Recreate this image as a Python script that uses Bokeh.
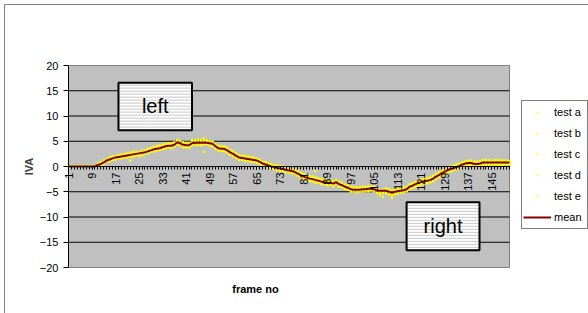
import math
from bokeh.plotting import figure
from bokeh.models import Legend, LegendItem, FixedTicker, Label, Range1d
from bokeh.embed import file_html
from bokeh.resources import INLINE

# ---------------- data ----------------
frames = list(range(1, 152))
x_tick_values = [1, 9, 17, 25, 33, 41, 49, 57, 65, 73, 81, 89, 97, 105, 113, 121, 129, 137, 145]
y_tick_values = [-20, -15, -10, -5, 0, 5, 10, 15, 20]

mean = [0, 0, 0, 0, 0, 0, 0, 0, 0, 0,
        0.3, 0.5, 0.8, 1.2, 1.4, 1.6, 1.8, 1.9, 2.0, 2.1,
        2.2, 2.3, 2.4, 2.5, 2.6, 2.7, 2.8, 3.0, 3.2, 3.4,
        3.5, 3.6, 3.8, 4.0, 4.1, 4.1, 4.3, 4.8, 4.6, 4.3,
        4.2, 4.2, 4.6, 4.7, 4.7, 4.7, 4.7, 4.7, 4.6, 4.5,
        4.0, 3.6, 3.5, 3.5, 3.2, 2.8, 2.5, 2.1, 1.8, 1.7,
        1.6, 1.5, 1.4, 1.3, 1.2, 0.9, 0.6, 0.4, 0.2, 0.0,
        -0.1, -0.3, -0.4, -0.5, -0.7, -0.8, -0.9, -1.1, -1.4, -1.7,
        -2.0, -2.2, -2.4, -2.5, -2.7, -2.8, -3.0, -3.1, -3.2, -3.2,
        -3.4, -3.1, -3.5, -3.7, -4.0, -4.2, -4.5, -4.6, -4.6, -4.6,
        -4.5, -4.5, -4.4, -4.4, -4.5, -4.8, -4.8, -4.8, -4.8, -5.0,
        -5.2, -5.0, -4.9, -4.8, -4.7, -4.5, -4.0, -3.8, -3.5, -3.3,
        -3.1, -2.9, -2.8, -2.7, -2.4, -2.0, -1.7, -1.3, -1.0, -0.7,
        -0.5, -0.3, -0.1, 0.1, 0.4, 0.6, 0.7, 0.7, 0.5, 0.5,
        0.6, 0.8, 0.8, 0.8, 0.8, 0.8, 0.8, 0.8, 0.8, 0.8, 0.8]

test_a = [0, 0, 0, 0, 0, 0, 0, 0, 0, 0,
          0.6, 0.2, 1.2, 1.0, 1.9, 1.3, 2.1, 1.6, 2.4, 1.8,
          2.6, 2.0, 2.9, 2.2, 2.3, 3.1, 2.5, 3.5, 2.9, 3.9,
          3.1, 4.2, 3.4, 4.5, 3.8, 4.6, 3.9, 5.3, 4.2, 4.8,
          3.7, 4.7, 5.2, 4.3, 5.3, 4.2, 5.1, 4.4, 5.0, 4.0,
          4.5, 3.1, 4.0, 3.0, 3.7, 2.3, 3.0, 1.7, 2.3, 1.3,
          2.1, 1.1, 1.9, 0.9, 1.6, 0.5, 1.0, 0.0, 0.6, -0.4,
          0.3, -0.7, 0.1, -0.9, -0.2, -1.2, -0.4, -1.5, -0.9, -2.1,
          -1.5, -2.6, -1.9, -2.9, -2.2, -3.2, -2.5, -3.5, -2.8, -3.6,
          -2.9, -3.5, -3.0, -4.1, -3.6, -4.6, -4.0, -5.0, -4.1, -5.0,
          -4.0, -4.9, -3.9, -4.8, -4.0, -5.3, -5.6, -5.2, -4.3, -5.5,
          -4.7, -5.5, -4.4, -5.2, -4.2, -4.9, -3.5, -4.3, -3.0, -3.8,
          -2.6, -3.4, -2.3, -3.2, -1.9, -2.5, -1.2, -1.8, -0.5, -1.2,
          0.0, -0.8, 0.4, -0.4, 0.9, 0.1, 1.2, 0.2, 1.0, 0.0,
          1.1, 0.3, 1.3, 0.3, 1.2, 0.4, 1.3, 0.3, 1.2, 0.4, 1.1]

test_b = [0, 0, 0, 0, 0, 0, 0, 0, 0, 0,
          0.0, 0.9, 0.4, 1.5, 1.0, 2.0, 1.4, 2.3, 1.6, 2.5,
          1.8, 2.7, 1.9, 2.9, 2.1, 2.2, 3.2, 2.6, 3.6, 2.9,
          4.0, 3.2, 4.3, 3.5, 4.6, 3.6, 4.8, 4.3, 5.1, 3.8,
          4.7, 3.7, 4.1, 5.2, 4.2, 5.3, 4.3, 5.2, 4.1, 5.0,
          3.5, 4.1, 3.0, 4.0, 2.7, 3.3, 2.0, 2.6, 1.3, 2.2,
          1.1, 2.0, 0.9, 1.8, 0.7, 1.4, 0.1, 0.9, -0.3, 0.5,
          -0.6, 0.2, -0.9, 0.0, -1.2, -0.3, -1.4, -0.6, -1.9, -1.2,
          -2.5, -1.7, -2.9, -2.0, -3.2, -2.3, -3.5, -2.6, -3.7, -2.7,
          -3.9, -2.6, -4.0, -3.2, -4.5, -3.7, -5.0, -4.1, -5.1, -4.1,
          -5.0, -4.0, -4.9, -3.9, -5.0, -4.3, -5.3, -6.0, -5.3, -4.5,
          -5.7, -4.5, -5.4, -4.3, -5.2, -4.0, -4.5, -3.3, -4.0, -2.8,
          -3.6, -2.4, -3.3, -2.2, -2.9, -1.5, -2.2, -0.8, -1.5, -0.2,
          -1.0, 0.2, -0.6, 0.6, -0.1, 1.1, 0.2, 1.2, 0.0, 1.0,
          0.1, 1.3, 0.3, 1.3, 0.3, 1.3, 0.3, 1.3, 0.3, 1.2, 0.4]

test_c = [0, 0, 0, 0, 0, 0, 0, 0, 0, 0,
          0.2, 0.7, 0.6, 1.4, 1.2, 1.8, 1.7, 2.1, 1.8, 2.3,
          2.0, 2.5, 2.2, 2.7, 2.4, 2.9, 2.6, 3.2, 3.0, 3.6,
          3.3, 3.8, 3.6, 4.2, 3.9, 4.3, 4.1, 5.0, 4.4, 4.5,
          4.0, 4.4, 4.4, 4.9, 4.5, 4.9, 4.5, 4.9, 4.4, 4.7,
          3.8, 3.8, 3.3, 3.7, 3.0, 3.0, 2.3, 2.3, 1.6, 1.9,
          1.4, 1.7, 1.2, 1.5, 1.0, 1.1, 0.4, 0.6, 0.0, 0.2,
          -0.3, -0.1, -0.6, -0.3, -0.9, -0.6, -1.1, -0.9, -1.6, -1.5,
          -2.2, -2.0, -2.6, -2.3, -2.9, -2.6, -3.2, -2.9, -3.4, -3.0,
          -3.6, -2.9, -3.7, -3.5, -4.2, -4.0, -4.7, -4.4, -4.8, -4.4,
          -4.7, -4.3, -4.6, -4.2, -4.7, -4.6, -5.0, -4.6, -5.0, -4.8,
          -5.4, -4.8, -5.1, -4.6, -4.9, -4.3, -4.2, -3.6, -3.7, -3.1,
          -3.3, -2.7, -3.0, -2.5, -2.6, -1.8, -1.9, -1.1, -1.2, -0.5,
          -0.7, -0.1, -0.3, 0.3, 0.2, 0.8, 0.5, 0.9, 0.3, 0.7,
          0.4, 1.0, 0.6, 1.0, 0.6, 1.0, 0.6, 1.0, 0.6, 1.0, 0.6]

test_d = [0, 0, 0, 0, 0, 0, 0, 0, 0, 0,
          0.5, 0.3, 1.0, 1.0, 1.6, 1.4, 2.0, 1.7, 2.2, 1.9,
          2.4, 1.2, 2.6, 2.3, 2.8, 2.5, 3.0, 2.8, 3.4, 3.2,
          3.7, 3.4, 4.0, 3.8, 4.3, 3.9, 4.5, 4.6, 4.8, 4.1,
          4.4, 4.0, 4.8, 4.5, 4.9, 4.5, 2.9, 4.5, 4.8, 4.3,
          4.2, 3.4, 3.7, 3.3, 3.4, 2.6, 2.7, 1.9, 2.0, 1.5,
          1.8, 1.3, 1.6, 1.1, 1.4, 0.7, 0.8, 0.2, 0.4, -0.2,
          0.1, -0.5, -0.2, -0.7, -0.5, -1.0, -0.7, -1.3, -1.2, -1.9,
          -1.8, -2.4, -2.2, -2.7, -0.9, -3.0, -2.8, -3.3, -3.0, -3.4,
          -3.2, -3.3, -3.3, -3.9, -3.8, -4.4, -4.3, -4.8, -4.4, -4.8,
          -4.3, -4.7, -4.2, -4.6, -4.3, -5.0, -4.6, -5.0, -4.4, -5.2,
          -6.2, -5.2, -4.7, -5.0, -4.5, -4.7, -3.8, -4.0, -3.3, -3.5,
          -2.9, -3.1, -2.6, -2.9, -2.2, -2.2, -1.5, -1.5, -0.8, -0.9,
          -0.3, -0.5, 0.1, -0.1, 0.6, 0.4, 0.9, 0.5, 0.7, 0.3,
          0.8, 0.6, 1.0, 0.6, 1.0, 0.6, 1.0, 0.6, 1.0, 0.6, 1.0]

test_e = [0, 0, 0, 0, 0, 0, 0, 0, 0, 0,
          0.1, 0.6, 0.5, 1.3, 1.1, 1.7, 1.9, 2.0, 2.1, 2.2,
          2.3, 2.2, 2.5, 2.4, 2.7, 2.6, 2.9, 3.1, 3.1, 3.5,
          3.4, 3.7, 3.7, 4.1, 4.0, 4.2, 4.2, 4.9, 4.5, 4.4,
          4.1, 4.3, 4.5, 4.8, 4.6, 4.8, 5.6, 4.8, 4.5, 4.6,
          3.9, 3.7, 3.4, 3.6, 3.1, 2.9, 2.4, 2.2, 1.7, 1.8,
          1.5, 1.6, 1.3, 1.4, 1.1, 1.0, 0.5, 0.5, 0.1, 0.1,
          -0.2, -0.2, -0.5, -0.4, -0.8, -0.7, -1.0, -1.0, -1.5, -1.6,
          -2.1, -2.1, -2.5, -2.4, -2.8, -2.7, -3.1, -3.0, -3.3, -3.1,
          -3.5, -3.0, -3.6, -3.6, -4.1, -4.1, -4.6, -4.5, -4.7, -4.5,
          -4.6, -4.4, -4.5, -4.3, -4.6, -4.7, -4.9, -4.7, -4.9, -4.9,
          -5.3, -4.9, -5.0, -4.7, -4.8, -4.4, -4.1, -3.7, -3.6, -3.2,
          -3.2, -2.8, -2.9, -2.6, -2.5, -1.9, -1.8, -1.2, -1.1, -0.6,
          -0.6, -0.2, -0.2, 0.2, 0.3, 0.7, 0.6, 0.8, 0.4, 0.6,
          0.5, 0.9, 0.7, 0.9, 0.7, 0.9, 0.7, 0.9, 0.7, 0.9, 0.7]

series_names = ["test a", "test b", "test c", "test d", "test e"]
series_values = [test_a, test_b, test_c, test_d, test_e]

# ---------------- layout / style ----------------
FONT = "Liberation Sans"
W, H = 588, 313                 # canvas = whole window
AREA_LEFT_PX, AREA_TOP_PX = 68, 65
PX_PER_FRAME = 2.94             # 441 px for 150 frame steps
PX_PER_UNIT = 5.05              # 202 px for 40 value units
BORDER_PX = 4                   # chart-area border offset from window edge

x_start = frames[0] - AREA_LEFT_PX / PX_PER_FRAME
x_end = frames[0] + (W - AREA_LEFT_PX) / PX_PER_FRAME
y_top = y_tick_values[-1] + AREA_TOP_PX / PX_PER_UNIT
y_bottom = y_tick_values[-1] - (H - AREA_TOP_PX) / PX_PER_UNIT
border_x = x_start + BORDER_PX / PX_PER_FRAME
border_y = y_top - BORDER_PX / PX_PER_UNIT

left_box = dict(left=18.0, right=43.0, top=16.6, bottom=7.2, text="left")
right_box = dict(left=116.0, right=140.8, top=-7.07, bottom=-16.6, text="right")
STRIPE_STEP = 3 / PX_PER_UNIT
XLABEL_POS = (64.6, -24.3)

p = figure(width=W, height=H, output_backend="svg", toolbar_location=None,
           x_range=Range1d(x_start, x_end), y_range=Range1d(y_bottom, y_top),
           min_border_left=0, min_border_right=0, min_border_top=0, min_border_bottom=0,
           background_fill_color="white", border_fill_color="white")
p.outline_line_color = None
p.xgrid.visible = False
p.ygrid.visible = False

# chart-area border (left and top edges visible in the window)
p.segment(x0=[border_x, border_x], y0=[border_y, border_y], x1=[border_x, x_end], y1=[y_bottom, border_y],
          line_color="#808080", line_width=1)

# grey plot area + gridlines
p.quad(left=[frames[0]], right=[frames[-1]], bottom=[y_tick_values[0]], top=[y_tick_values[-1]],
       fill_color="#c0c0c0", line_color="#808080", line_width=1)
inner_ticks = [t for t in y_tick_values if y_tick_values[0] < t < y_tick_values[-1]]
p.segment(x0=[frames[0]] * len(inner_ticks), x1=[frames[-1]] * len(inner_ticks),
          y0=inner_ticks, y1=inner_ticks, line_color="black", line_width=1)

# y axis (fixed at the left edge of the plot area)
p.yaxis.fixed_location = frames[0]
p.yaxis.ticker = FixedTicker(ticks=y_tick_values)
p.yaxis.bounds = (y_tick_values[0], y_tick_values[-1])
p.yaxis.axis_line_color = "black"
p.yaxis.major_tick_out = 5
p.yaxis.major_tick_in = 0
p.yaxis.minor_tick_line_color = None
p.yaxis.major_label_standoff = 5
p.yaxis.major_label_text_font = FONT
p.yaxis.major_label_text_font_size = "11px"
p.yaxis.major_label_text_color = "black"
p.yaxis.axis_label = "IVA"
p.yaxis.axis_label_text_font = FONT
p.yaxis.axis_label_text_font_size = "11px"
p.yaxis.axis_label_text_font_style = "bold"
p.yaxis.axis_label_standoff = 2

# x axis at y = 0
p.xaxis.fixed_location = 0
p.xaxis.bounds = (frames[0], frames[-1])
p.xaxis.ticker = FixedTicker(ticks=x_tick_values, minor_ticks=frames)
p.xaxis.axis_line_color = "black"
p.xaxis.major_tick_out = 3
p.xaxis.major_tick_in = 0
p.xaxis.minor_tick_out = 3
p.xaxis.minor_tick_in = 0
p.xaxis.minor_tick_line_color = "black"
p.xaxis.major_label_orientation = math.pi / 2
p.xaxis.major_label_standoff = 3
p.xaxis.major_label_text_font = FONT
p.xaxis.major_label_text_font_size = "11px"
p.xaxis.major_label_text_color = "black"

# text boxes with light horizontal stripes
for box in (left_box, right_box):
    p.quad(left=[box["left"]], right=[box["right"]], top=[box["top"]], bottom=[box["bottom"]],
           fill_color="white", line_color=None)
    n = int((box["top"] - box["bottom"]) / STRIPE_STEP)
    ys = [box["bottom"] + STRIPE_STEP * k for k in range(1, n + 1)]
    p.segment(x0=[box["left"]] * len(ys), x1=[box["right"]] * len(ys), y0=ys, y1=ys,
              line_color="#c8c8c8", line_width=1)
    p.quad(left=[box["left"]], right=[box["right"]], top=[box["top"]], bottom=[box["bottom"]],
           fill_color=None, line_color="black", line_width=2)
    p.add_layout(Label(x=(box["left"] + box["right"]) / 2, y=(box["top"] + box["bottom"]) / 2,
                       text=box["text"], text_align="center", text_baseline="middle",
                       text_font=FONT, text_font_size="20px", text_color="black"))

# data
items = []
for name, vals in zip(series_names, series_values):
    r = p.scatter(frames, vals, marker="dot", size=10, fill_color="#ffff00", line_color="#ffff00")
    items.append(LegendItem(label=name, renderers=[r]))
rm = p.line(frames, mean, line_color="#800000", line_width=2)
items.append(LegendItem(label="mean", renderers=[rm]))

legend = Legend(items=items, location=(521, 84))
legend.border_line_color = "black"
legend.border_line_width = 1
legend.background_fill_color = "white"
legend.background_fill_alpha = 1
legend.label_text_font = FONT
legend.label_text_font_size = "11px"
legend.label_text_color = "black"
legend.glyph_width = 28
legend.glyph_height = 20
legend.label_height = 20
legend.label_width = 32
legend.label_standoff = 3
legend.spacing = 1
legend.padding = 1
legend.margin = 0
p.add_layout(legend)

p.add_layout(Label(x=XLABEL_POS[0], y=XLABEL_POS[1], text="frame no", text_align="center",
                   text_baseline="middle", text_font=FONT, text_font_size="11px",
                   text_font_style="bold", text_color="black"))

open("out.html", "w").write(file_html(p, INLINE))
